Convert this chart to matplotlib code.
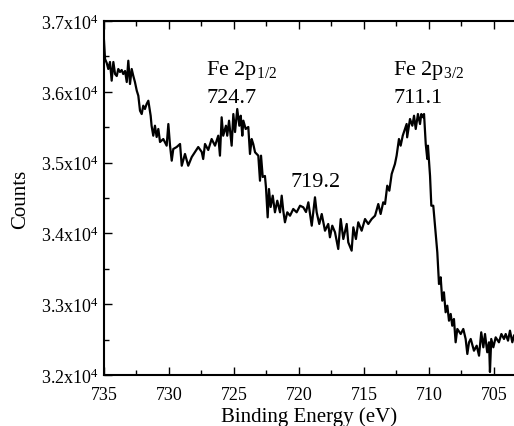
import numpy as np
import matplotlib
matplotlib.use("Agg")
import matplotlib.pyplot as plt
from matplotlib.ticker import MultipleLocator, FuncFormatter

plt.rcParams['font.family'] = ['Liberation Serif', 'DejaVu Serif']
plt.rcParams['mathtext.fontset'] = 'custom'
plt.rcParams['mathtext.rm'] = 'Liberation Serif'
plt.rcParams['mathtext.it'] = 'Liberation Serif:italic'

# Fe 2p spectrum (binding energy in eV, counts)
energy = [735.00, 734.92, 734.79, 734.67, 734.54, 734.41, 734.28, 734.15, 734.02, 733.90,
          733.77, 733.64, 733.52, 733.38, 733.25, 733.13, 733.00, 732.87, 732.75, 732.62,
          732.48, 732.36, 732.23, 732.10, 731.98, 731.85, 731.72, 731.59, 731.41, 731.34,
          731.21, 731.08, 730.95, 730.82, 730.69, 730.44, 730.18, 730.05, 729.92, 729.79,
          729.67, 729.41, 729.15, 729.02, 728.77, 728.52, 728.25, 728.00, 727.75, 727.48,
          727.37, 727.23, 726.98, 726.72, 726.46, 726.21, 726.08, 725.95, 725.83, 725.62,
          725.52, 725.38, 725.18, 725.05, 724.92, 724.75, 724.59, 724.48, 724.36, 724.28,
          724.10, 723.90, 723.77, 723.64, 723.52, 723.38, 723.13, 723.00, 722.92, 722.79,
          722.62, 722.54, 722.41, 722.31, 722.18, 722.02, 721.85, 721.67, 721.46, 721.33,
          721.21, 721.08, 720.90, 720.69, 720.44, 720.18, 719.92, 719.67, 719.46, 719.28,
          719.02, 718.77, 718.64, 718.44, 718.25, 718.00, 717.75, 717.62, 717.44, 717.23,
          716.98, 716.79, 716.59, 716.33, 716.21, 715.95, 715.82, 715.62, 715.44, 715.18,
          714.92, 714.67, 714.41, 714.15, 713.90, 713.72, 713.52, 713.38, 713.21, 713.05,
          712.87, 712.62, 712.49, 712.31, 712.18, 712.02, 711.85, 711.72, 711.68, 711.46,
          711.28, 711.15, 711.02, 710.85, 710.69, 710.59, 710.46, 710.38, 710.25, 710.13,
          710.08, 709.92, 709.82, 709.67, 709.36, 709.23, 709.10, 708.98, 708.85, 708.72,
          708.59, 708.46, 708.33, 708.21, 708.08, 707.95, 707.82, 707.56, 707.36, 707.18,
          707.05, 706.92, 706.79, 706.54, 706.33, 706.15, 705.98, 705.82, 705.69, 705.52,
          705.38, 705.31, 705.21, 705.05, 704.87, 704.62, 704.43, 704.23, 704.10, 703.92,
          703.77, 703.59, 703.46]
counts = [36722, 36463, 36407, 36322, 36421, 36157, 36421, 36251, 36223, 36322,
          36280, 36308, 36251, 36294, 36138, 36439, 36110, 36322, 36227, 36138,
          36016, 35945, 35733, 35686, 35804, 35757, 35828, 35874, 35662, 35521,
          35380, 35521, 35362, 35475, 35291, 35333, 35239, 35545, 35239, 35027,
          35192, 35220, 35263, 34956, 35122, 34956, 35079, 35150, 35220, 35150,
          35051, 35263, 35178, 35333, 35239, 35380, 35098, 35640, 35380, 35521,
          35380, 35592, 35239, 35686, 35432, 35757, 35521, 35662, 35380, 35592,
          35475, 35503, 35122, 35333, 35263, 35146, 35098, 34744, 35098, 34797,
          34811, 34651, 34227, 34627, 34373, 34533, 34298, 34462, 34298, 34533,
          34321, 34157, 34298, 34250, 34345, 34298, 34391, 34369, 34302, 34439,
          34109, 34510, 34298, 34133, 34274, 34038, 34133, 33945, 34109, 34016,
          33780, 34203, 33921, 34133, 33874, 33756, 34086, 33921, 34157, 34038,
          34203, 34133, 34203, 34250, 34415, 34274, 34439, 34415, 34674, 34603,
          34839, 34980, 35098, 35333, 35239, 35380, 35475, 35545, 35357, 35616,
          35521, 35662, 35475, 35686, 35545, 35686, 35640, 35686, 35263, 35051,
          35239, 34815, 34391, 34391, 33733, 33285, 33380, 33050, 33168, 32886,
          32979, 32767, 32862, 32696, 32791, 32462, 32650, 32579, 32650, 32509,
          32297, 32462, 32509, 32343, 32414, 32273, 32603, 32391, 32579, 32321,
          32462, 32042, 32509, 32391, 32532, 32462, 32579, 32509, 32579, 32485,
          32626, 32462, 32556]

# peak labels: (text, x, y)
peak_labels = [(r'Fe 2p$_{1/2}$', 727.12, 36251),
               ('724.7', 727.12, 35860),
               ('719.2', 720.64, 34674),
               (r'Fe 2p$_{3/2}$', 712.75, 36251),
               ('711.1', 712.75, 35860)]

fig = plt.figure(figsize=(5.14, 4.27), dpi=100)
ax = fig.add_axes([104/514, 1 - 376/427, 1 - 104/514, (376 - 22)/427])

ax.plot(energy, counts, color='black', lw=1.6)

ax.set_xlim(735, 703.46)
ax.set_ylim(32000, 37000)
ax.xaxis.set_major_locator(MultipleLocator(5))
ax.xaxis.set_minor_locator(MultipleLocator(2.5))
ax.yaxis.set_major_locator(MultipleLocator(1000))
ax.yaxis.set_minor_locator(MultipleLocator(500))
ax.yaxis.set_major_formatter(FuncFormatter(lambda v, p: r'%.1fx10$^4$' % (v / 1e4)))
ax.xaxis.set_major_formatter(FuncFormatter(lambda v, p: '%d' % v))

ax.tick_params(which='both', direction='in', top=True, right=False, labelsize=13, width=1)
ax.tick_params(which='major', length=6)
ax.tick_params(which='minor', length=3.5)
ax.tick_params(axis='x', which='major', pad=8)
for s in ['left', 'bottom', 'top']:
    ax.spines[s].set_linewidth(1.5)
ax.spines['right'].set_visible(False)

ax.set_xlabel('Binding Energy (eV)', fontsize=15, labelpad=2)
ax.set_ylabel('Counts', fontsize=15, labelpad=8)

for txt, x, y in peak_labels:
    ax.text(x, y, txt, fontsize=16, va='baseline', ha='left')

fig.savefig('out.png', dpi=100)
